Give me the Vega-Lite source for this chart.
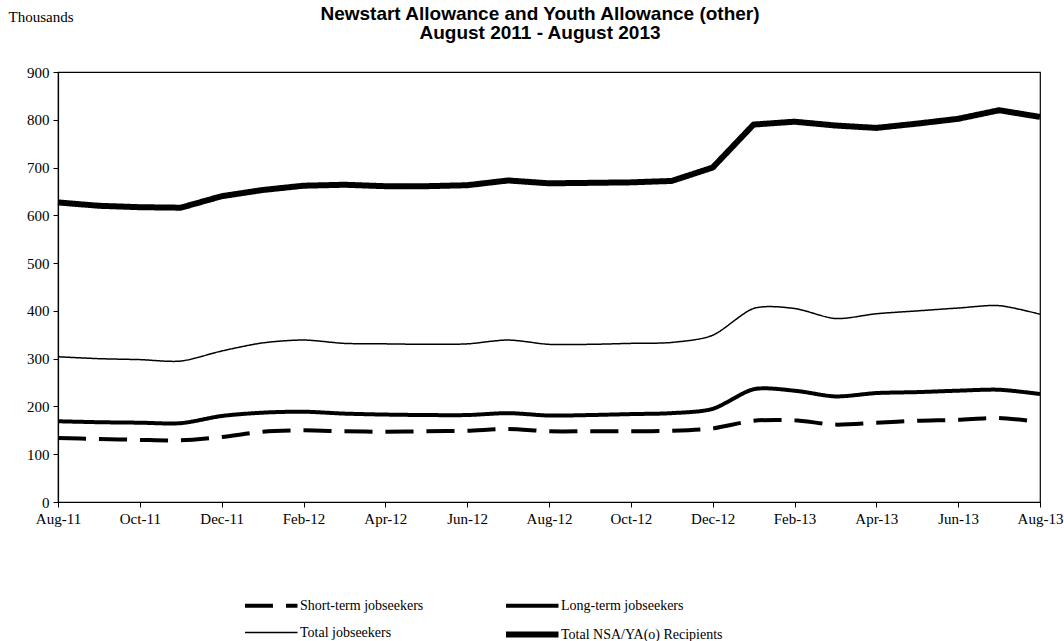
{
  "$schema": "https://vega.github.io/schema/vega-lite/v6.json",
  "width": 982,
  "height": 430,
  "autosize": {"type": "none"},
  "padding": {"left": 58, "top": 72, "right": 24, "bottom": 139},
  "background": "white",
  "title": {
    "text": ["Newstart Allowance and Youth Allowance (other)", "August 2011 - August 2013"],
    "font": "Liberation Sans",
    "fontSize": 19,
    "fontWeight": "bold",
    "lineHeight": 19,
    "color": "black",
    "anchor": "middle",
    "dx": -9,
    "offset": -34
  },
  "data": {
    "values": [
      {"month": "Aug-11", "series": "Short-term jobseekers", "value": 134},
      {"month": "Sep-11", "series": "Short-term jobseekers", "value": 132},
      {"month": "Oct-11", "series": "Short-term jobseekers", "value": 130},
      {"month": "Nov-11", "series": "Short-term jobseekers", "value": 129},
      {"month": "Dec-11", "series": "Short-term jobseekers", "value": 136},
      {"month": "Jan-12", "series": "Short-term jobseekers", "value": 147},
      {"month": "Feb-12", "series": "Short-term jobseekers", "value": 150},
      {"month": "Mar-12", "series": "Short-term jobseekers", "value": 148},
      {"month": "Apr-12", "series": "Short-term jobseekers", "value": 147},
      {"month": "May-12", "series": "Short-term jobseekers", "value": 148},
      {"month": "Jun-12", "series": "Short-term jobseekers", "value": 149},
      {"month": "Jul-12", "series": "Short-term jobseekers", "value": 153},
      {"month": "Aug-12", "series": "Short-term jobseekers", "value": 148},
      {"month": "Sep-12", "series": "Short-term jobseekers", "value": 148},
      {"month": "Oct-12", "series": "Short-term jobseekers", "value": 148},
      {"month": "Nov-12", "series": "Short-term jobseekers", "value": 149},
      {"month": "Dec-12", "series": "Short-term jobseekers", "value": 154},
      {"month": "Jan-13", "series": "Short-term jobseekers", "value": 170},
      {"month": "Feb-13", "series": "Short-term jobseekers", "value": 171},
      {"month": "Mar-13", "series": "Short-term jobseekers", "value": 162},
      {"month": "Apr-13", "series": "Short-term jobseekers", "value": 166},
      {"month": "May-13", "series": "Short-term jobseekers", "value": 170},
      {"month": "Jun-13", "series": "Short-term jobseekers", "value": 172},
      {"month": "Jul-13", "series": "Short-term jobseekers", "value": 176},
      {"month": "Aug-13", "series": "Short-term jobseekers", "value": 167},
      {"month": "Aug-11", "series": "Long-term jobseekers", "value": 169},
      {"month": "Sep-11", "series": "Long-term jobseekers", "value": 167},
      {"month": "Oct-11", "series": "Long-term jobseekers", "value": 166},
      {"month": "Nov-11", "series": "Long-term jobseekers", "value": 165},
      {"month": "Dec-11", "series": "Long-term jobseekers", "value": 180},
      {"month": "Jan-12", "series": "Long-term jobseekers", "value": 187},
      {"month": "Feb-12", "series": "Long-term jobseekers", "value": 189},
      {"month": "Mar-12", "series": "Long-term jobseekers", "value": 185},
      {"month": "Apr-12", "series": "Long-term jobseekers", "value": 183},
      {"month": "May-12", "series": "Long-term jobseekers", "value": 182},
      {"month": "Jun-12", "series": "Long-term jobseekers", "value": 182},
      {"month": "Jul-12", "series": "Long-term jobseekers", "value": 186},
      {"month": "Aug-12", "series": "Long-term jobseekers", "value": 181},
      {"month": "Sep-12", "series": "Long-term jobseekers", "value": 182},
      {"month": "Oct-12", "series": "Long-term jobseekers", "value": 184},
      {"month": "Nov-12", "series": "Long-term jobseekers", "value": 186},
      {"month": "Dec-12", "series": "Long-term jobseekers", "value": 195},
      {"month": "Jan-13", "series": "Long-term jobseekers", "value": 236},
      {"month": "Feb-13", "series": "Long-term jobseekers", "value": 233},
      {"month": "Mar-13", "series": "Long-term jobseekers", "value": 221},
      {"month": "Apr-13", "series": "Long-term jobseekers", "value": 228},
      {"month": "May-13", "series": "Long-term jobseekers", "value": 230},
      {"month": "Jun-13", "series": "Long-term jobseekers", "value": 233},
      {"month": "Jul-13", "series": "Long-term jobseekers", "value": 235},
      {"month": "Aug-13", "series": "Long-term jobseekers", "value": 226},
      {"month": "Aug-11", "series": "Total jobseekers", "value": 304},
      {"month": "Sep-11", "series": "Total jobseekers", "value": 300},
      {"month": "Oct-11", "series": "Total jobseekers", "value": 298},
      {"month": "Nov-11", "series": "Total jobseekers", "value": 295},
      {"month": "Dec-11", "series": "Total jobseekers", "value": 316},
      {"month": "Jan-12", "series": "Total jobseekers", "value": 333},
      {"month": "Feb-12", "series": "Total jobseekers", "value": 339},
      {"month": "Mar-12", "series": "Total jobseekers", "value": 332},
      {"month": "Apr-12", "series": "Total jobseekers", "value": 331},
      {"month": "May-12", "series": "Total jobseekers", "value": 330},
      {"month": "Jun-12", "series": "Total jobseekers", "value": 331},
      {"month": "Jul-12", "series": "Total jobseekers", "value": 339},
      {"month": "Aug-12", "series": "Total jobseekers", "value": 330},
      {"month": "Sep-12", "series": "Total jobseekers", "value": 330},
      {"month": "Oct-12", "series": "Total jobseekers", "value": 332},
      {"month": "Nov-12", "series": "Total jobseekers", "value": 334},
      {"month": "Dec-12", "series": "Total jobseekers", "value": 349},
      {"month": "Jan-13", "series": "Total jobseekers", "value": 405},
      {"month": "Feb-13", "series": "Total jobseekers", "value": 405},
      {"month": "Mar-13", "series": "Total jobseekers", "value": 384},
      {"month": "Apr-13", "series": "Total jobseekers", "value": 394},
      {"month": "May-13", "series": "Total jobseekers", "value": 400},
      {"month": "Jun-13", "series": "Total jobseekers", "value": 406},
      {"month": "Jul-13", "series": "Total jobseekers", "value": 411},
      {"month": "Aug-13", "series": "Total jobseekers", "value": 393},
      {"month": "Aug-11", "series": "Total NSA/YA(o) Recipients", "value": 627},
      {"month": "Sep-11", "series": "Total NSA/YA(o) Recipients", "value": 620},
      {"month": "Oct-11", "series": "Total NSA/YA(o) Recipients", "value": 617},
      {"month": "Nov-11", "series": "Total NSA/YA(o) Recipients", "value": 616},
      {"month": "Dec-11", "series": "Total NSA/YA(o) Recipients", "value": 640},
      {"month": "Jan-12", "series": "Total NSA/YA(o) Recipients", "value": 653},
      {"month": "Feb-12", "series": "Total NSA/YA(o) Recipients", "value": 662},
      {"month": "Mar-12", "series": "Total NSA/YA(o) Recipients", "value": 664},
      {"month": "Apr-12", "series": "Total NSA/YA(o) Recipients", "value": 661},
      {"month": "May-12", "series": "Total NSA/YA(o) Recipients", "value": 661},
      {"month": "Jun-12", "series": "Total NSA/YA(o) Recipients", "value": 663},
      {"month": "Jul-12", "series": "Total NSA/YA(o) Recipients", "value": 673},
      {"month": "Aug-12", "series": "Total NSA/YA(o) Recipients", "value": 667},
      {"month": "Sep-12", "series": "Total NSA/YA(o) Recipients", "value": 668},
      {"month": "Oct-12", "series": "Total NSA/YA(o) Recipients", "value": 669},
      {"month": "Nov-12", "series": "Total NSA/YA(o) Recipients", "value": 672},
      {"month": "Dec-12", "series": "Total NSA/YA(o) Recipients", "value": 700},
      {"month": "Jan-13", "series": "Total NSA/YA(o) Recipients", "value": 790},
      {"month": "Feb-13", "series": "Total NSA/YA(o) Recipients", "value": 796},
      {"month": "Mar-13", "series": "Total NSA/YA(o) Recipients", "value": 788},
      {"month": "Apr-13", "series": "Total NSA/YA(o) Recipients", "value": 783},
      {"month": "May-13", "series": "Total NSA/YA(o) Recipients", "value": 792},
      {"month": "Jun-13", "series": "Total NSA/YA(o) Recipients", "value": 802},
      {"month": "Jul-13", "series": "Total NSA/YA(o) Recipients", "value": 820},
      {"month": "Aug-13", "series": "Total NSA/YA(o) Recipients", "value": 806}
    ]
  },
  "encoding": {
    "x": {
      "field": "month",
      "type": "ordinal",
      "scale": {
        "type": "point",
        "padding": 0,
        "domain": ["Aug-11","Sep-11","Oct-11","Nov-11","Dec-11","Jan-12","Feb-12","Mar-12","Apr-12","May-12","Jun-12","Jul-12","Aug-12","Sep-12","Oct-12","Nov-12","Dec-12","Jan-13","Feb-13","Mar-13","Apr-13","May-13","Jun-13","Jul-13","Aug-13"]
      },
      "axis": {
        "title": null,
        "values": ["Aug-11","Oct-11","Dec-11","Feb-12","Apr-12","Jun-12","Aug-12","Oct-12","Dec-12","Feb-13","Apr-13","Jun-13","Aug-13"],
        "labelAngle": 0,
        "labelOverlap": false,
        "labelFlush": false,
        "labelPadding": 4,
        "grid": false
      }
    },
    "y": {
      "field": "value",
      "type": "quantitative",
      "scale": {"domain": [0, 900], "nice": false, "zero": true},
      "axis": {
        "values": [0, 100, 200, 300, 400, 500, 600, 700, 800, 900],
        "grid": false,
        "title": "Thousands",
        "titleAngle": 0,
        "titleAlign": "left",
        "titleBaseline": "alphabetic",
        "titleX": -50,
        "titleY": -51,
        "titleFont": "Liberation Serif",
        "titleFontSize": 15,
        "titleFontWeight": "normal",
        "titleColor": "black",
        "labelPadding": 4
      }
    },
    "strokeDash": {
      "field": "series",
      "type": "ordinal",
      "scale": {
        "domain": ["Short-term jobseekers", "Long-term jobseekers", "Total jobseekers", "Total NSA/YA(o) Recipients"],
        "range": [[28, 13], [1, 0], [1, 0], [1, 0]]
      },
      "legend": {"title": null}
    },
    "strokeWidth": {
      "field": "series",
      "type": "ordinal",
      "scale": {
        "type": "ordinal",
        "domain": ["Short-term jobseekers", "Long-term jobseekers", "Total jobseekers", "Total NSA/YA(o) Recipients"],
        "range": [4, 4, 1.5, 6]
      },
      "legend": {"title": null}
    }
  },
  "layer": [
    {
      "transform": [{"filter": "datum.series !== 'Total NSA/YA(o) Recipients'"}],
      "mark": {"type": "line", "color": "black", "interpolate": "cardinal", "tension": 0.2, "strokeCap": "butt"}
    },
    {
      "transform": [{"filter": "datum.series === 'Total NSA/YA(o) Recipients'"}],
      "mark": {"type": "line", "color": "black", "interpolate": "linear", "strokeJoin": "round"}
    }
  ],
  "config": {
    "view": {"stroke": "black", "strokeWidth": 1.2},
    "axis": {
      "labelFont": "Liberation Serif",
      "labelFontSize": 15,
      "labelColor": "black",
      "domainColor": "black",
      "domainWidth": 1.2,
      "tickColor": "black",
      "tickSize": 5,
      "tickWidth": 1
    },
    "legend": {
      "orient": "none",
      "direction": "horizontal",
      "legendX": 184,
      "legendY": 521,
      "columns": 2,
      "columnPadding": 70,
      "rowPadding": 7,
      "padding": 0,
      "symbolType": "M-1,0H4",
      "symbolSize": 441,
      "symbolStrokeColor": "black",
      "symbolFillColor": "transparent",
      "labelFont": "Liberation Serif",
      "labelFontSize": 14,
      "labelColor": "black",
      "labelOffset": 31,
      "labelLimit": 400
    }
  }
}
